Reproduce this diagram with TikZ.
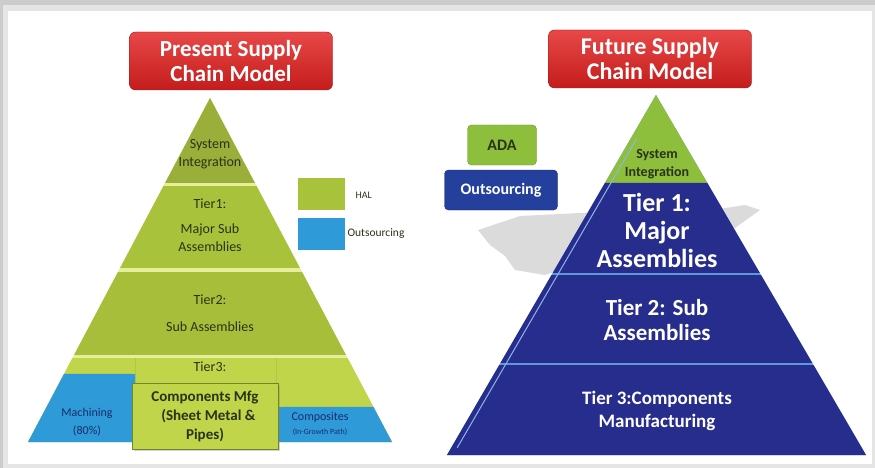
\documentclass[tikz,border=0pt]{standalone}
\usepackage{fontspec}
\setmainfont{Carlito}
\usetikzlibrary{calc,shadows}
\definecolor{olive1}{HTML}{9AAE3A}
\definecolor{lime1}{HTML}{A9C23C}
\definecolor{lime2}{HTML}{A6BE3A}
\definecolor{lime3}{HTML}{C0D54A}
\definecolor{sepY}{HTML}{E6EE9C}
\definecolor{skyb}{HTML}{2E9AD8}
\definecolor{navy1}{HTML}{272D8C}
\definecolor{sepB}{HTML}{5E97DC}
\definecolor{redA}{HTML}{E84848}
\definecolor{redB}{HTML}{C41C1C}
\definecolor{adag}{HTML}{8DBE3C}
\definecolor{outb}{HTML}{25409C}
\definecolor{darktxt}{HTML}{2A3318}
\tikzset{
  titlebox/.style={rounded corners=6pt, top color=redA, bottom color=redB, draw=redB!80!black,
    minimum width=203pt, minimum height=58pt, text=white, font=\bfseries\fontsize{23}{25}\selectfont,
    align=center, inner sep=0pt},
  lt/.style={text=darktxt, font=\fontsize{14}{18}\selectfont, align=center},
  wt/.style={text=white, font=\bfseries, align=center},
}
\begin{document}
\begin{tikzpicture}[x=1pt,y=-1pt]
\useasboundingbox (0,0) rectangle (875,468);
% frame
\fill[gray!40] (0,0) rectangle (875,468);
\fill[gray!20] (3,5) rectangle (875,468);
\fill[white] (8,11) rectangle (872,464);

% ---------------- LEFT PYRAMID ----------------
\coordinate (LA) at (210,98);
\coordinate (LL) at (28,442);
\coordinate (LR) at (392,442);
\fill[sepY] (LA) -- (LL) -- (LR) -- cycle;
\fill[olive1] (LA) -- ($(LA)!0.247!(LL)$) -- ($(LA)!0.247!(LR)$) -- cycle;
\fill[lime1] ($(LA)!0.256!(LL)$) -- ($(LA)!0.494!(LL)$) -- ($(LA)!0.494!(LR)$) -- ($(LA)!0.256!(LR)$) -- cycle;
\fill[lime2] ($(LA)!0.506!(LL)$) -- ($(LA)!0.747!(LL)$) -- ($(LA)!0.747!(LR)$) -- ($(LA)!0.506!(LR)$) -- cycle;
\fill[lime3] ($(LA)!0.756!(LL)$) -- (LL) -- (LR) -- ($(LA)!0.756!(LR)$) -- cycle;
\draw[lime2!85!black, opacity=0.25] (135,358) -- (135,442) (276,358) -- (276,442);
% blue outsourcing parts
\fill[skyb] ($(LA)!0.802!(LL)$) -- (135,374) -- (135,442) -- (LL) -- cycle;
\fill[skyb] (278,407) -- ($(LA)!0.898!(LR)$) -- (LR) -- (278,442) -- cycle;
\node[text=outb!70!black, font=\fontsize{12}{18}\selectfont, align=center] (mach) at (87,422) {Machining\\(80\%)};
\node[text=outb!70!black, font=\fontsize{12}{14}\selectfont, align=center] (comp) at (320,424) {Composites\\{\fontsize{8}{10}\selectfont(In-Growth Path)}};
% components box
\node[draw=lime2!70!black, fill=lime3, drop shadow={opacity=0.35}, minimum width=146pt, minimum height=66pt,
  inner sep=0pt, align=center, text=darktxt, font=\bfseries\fontsize{15}{19}\selectfont] (cmfg) at (205,416)
  {Components Mfg\\\ \ (Sheet Metal \&\\Pipes)};
% texts
\node[lt] (lsys) at (210,154) {System\\Integration};
\node[lt, font=\fontsize{14}{25}\selectfont] (lt1) at (210,225) {Tier1:\\Major Sub\\[-7pt]Assemblies};
\node[lt, font=\fontsize{14}{27}\selectfont] (lt2) at (210,313) {Tier2:\\Sub Assemblies};
\node[lt] (lt3) at (210,367) {Tier3:};
% legend
\fill[lime1] (298,178) rectangle (345,210);
\fill[skyb] (298,218) rectangle (345,250);
\node[text=darktxt, font=\fontsize{10}{12}\selectfont, anchor=west] (lhal) at (352,195) {HAL};
\node[text=darktxt, font=\fontsize{11.5}{12}\selectfont, anchor=west] (lout) at (344,234) {Outsourcing};
% title
\node[titlebox] (ltitle) at (231,61) {Present Supply\\Chain Model};

% ---------------- RIGHT SIDE ----------------
% airplane silhouette
\fill[gray!28] (478,230) -- (520,216) -- (600,212) -- (640,214) -- (700,212) -- (745,205) -- (760,210)
  -- (735,228) -- (700,240) -- (620,250) -- (585,262) -- (545,275) -- (515,270) -- (505,256) -- (490,245) -- cycle;
\coordinate (RA) at (656,95);
\coordinate (RL) at (447,455);
\coordinate (RR) at (866,455);
\fill[sepB] (RA) -- (RL) -- (RR) -- cycle;
\fill[adag] (RA) -- ($(RA)!0.244!(RL)$) -- ($(RA)!0.244!(RR)$) -- cycle;
\fill[navy1] ($(RA)!0.244!(RL)$) -- ($(RA)!0.494!(RL)$) -- ($(RA)!0.494!(RR)$) -- ($(RA)!0.244!(RR)$) -- cycle;
\fill[navy1] ($(RA)!0.5!(RL)$) -- ($(RA)!0.744!(RL)$) -- ($(RA)!0.744!(RR)$) -- ($(RA)!0.5!(RR)$) -- cycle;
\fill[navy1] ($(RA)!0.75!(RL)$) -- (RL) -- (RR) -- ($(RA)!0.75!(RR)$) -- cycle;
\draw[sepB!70!white, line width=1pt] ($(RA)!0.12!(RL)+(6,0)$) -- ($(RA)!0.98!(RL)+(6,0)$);
\node[text=darktxt, font=\bfseries\fontsize{14}{18}\selectfont, align=center] (rsys) at (657,164) {System\\Integration};
\node[wt, font=\bfseries\fontsize{26}{28}\selectfont] (rt1) at (657,230) {Tier 1:\\Major\\Assemblies};
\node[wt, font=\bfseries\fontsize{23}{25}\selectfont] (rt2) at (657,320) {Tier 2: Sub\\Assemblies};
\node[wt, font=\bfseries\fontsize{19}{23}\selectfont] (rt3) at (657,411) {Tier 3:Components\\Manufacturing};
% ADA / Outsourcing
\node[rounded corners=4pt, fill=adag, draw=adag!80!black, minimum width=69pt, minimum height=40pt,
  font=\bfseries\fontsize{16}{18}\selectfont, text=darktxt] (ada) at (502,145) {ADA};
\node[rounded corners=4pt, fill=outb, draw=outb!70!black, minimum width=113pt, minimum height=40pt,
  font=\bfseries\fontsize{16}{18}\selectfont, text=white] (outs) at (501,190) {Outsourcing};
% title
\node[titlebox, font=\bfseries\fontsize{24}{25}\selectfont] (rtitle) at (650,59) {Future Supply\\Chain Model};
\end{tikzpicture}
\end{document}
